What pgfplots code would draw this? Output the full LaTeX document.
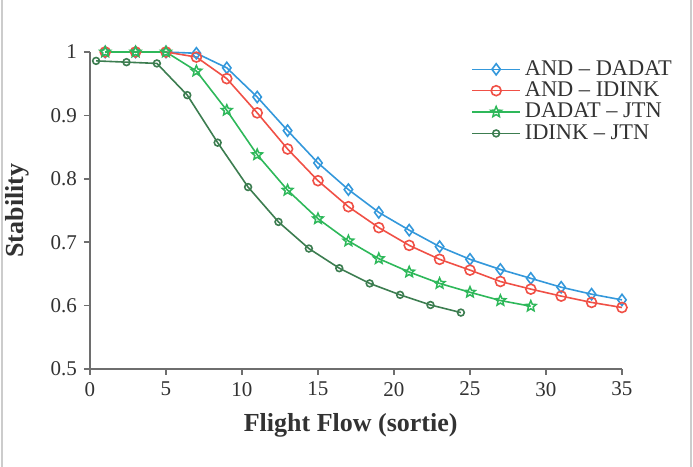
\documentclass[border=0pt]{standalone}
\usepackage{pgfplots}
\pgfplotsset{compat=1.18}
\usepackage{fontspec}
\setmainfont{Liberation Serif}
\definecolor{cblue}{RGB}{52,152,219}
\definecolor{cred}{RGB}{240,80,70}
\definecolor{cgreen}{RGB}{46,184,90}
\definecolor{cdark}{RGB}{60,125,80}
\definecolor{axgray}{RGB}{110,110,110}
\definecolor{txt}{RGB}{50,50,50}
\pgfdeclareplotmark{ostar}{%
  \pgfpathmoveto{\pgfpointpolar{90}{\pgfplotmarksize}}%
  \pgfpathlineto{\pgfpointpolar{126}{0.45\pgfplotmarksize}}%
  \pgfpathlineto{\pgfpointpolar{162}{\pgfplotmarksize}}%
  \pgfpathlineto{\pgfpointpolar{198}{0.45\pgfplotmarksize}}%
  \pgfpathlineto{\pgfpointpolar{234}{\pgfplotmarksize}}%
  \pgfpathlineto{\pgfpointpolar{270}{0.45\pgfplotmarksize}}%
  \pgfpathlineto{\pgfpointpolar{306}{\pgfplotmarksize}}%
  \pgfpathlineto{\pgfpointpolar{342}{0.45\pgfplotmarksize}}%
  \pgfpathlineto{\pgfpointpolar{18}{\pgfplotmarksize}}%
  \pgfpathlineto{\pgfpointpolar{54}{0.45\pgfplotmarksize}}%
  \pgfpathclose
  \pgfusepathqstroke
}
\begin{document}
\begin{tikzpicture}
\path[use as bounding box] (0,0) rectangle (346.5pt,233.5pt);
\draw[gray!40, line width=1pt] (1pt,0pt) -- (1pt,233.5pt);
\draw[gray!40, line width=1pt] (345.5pt,0pt) -- (345.5pt,233.5pt);
\begin{axis}[
  at={(45pt,49pt)}, anchor=south west,
  scale only axis, width=266pt, height=158.5pt,
  xmin=0, xmax=35, ymin=0.5, ymax=1,
  xtick={0,5,...,35}, ytick={0.5,0.6,0.7,0.8,0.9,1},
  axis x line*=bottom, axis y line*=left,
  axis line style={axgray, line width=0.8pt, -},
  tick align=outside, tick pos=left,
  major tick length=3pt,
  tick style={axgray, line width=0.8pt},
  /pgf/number format/assume math mode=true,
  yticklabel style={/pgf/number format/fixed, /pgf/number format/precision=1},
  ticklabel style={font=\fontsize{10.5}{12}\selectfont, text=txt},
  xlabel={Flight Flow (sortie)}, ylabel={Stability},
  label style={font=\fontsize{13}{15}\selectfont\bfseries, text=txt},
  xlabel style={at={(axis description cs:0.49,-0.177)}, anchor=center},
  ylabel style={at={(axis description cs:-0.137,0.5)}, anchor=center},
  clip=false,
  legend style={at={(0.705,1.0)}, anchor=north west, draw=none, fill=none,
    font=\fontsize{11.2}{12}\selectfont, text=txt, row sep=-2.2pt},
  legend cell align=left,
  legend image code/.code={\draw[mark repeat=2,mark phase=2] plot coordinates {(0cm,0cm)(0.42cm,0cm)(0.84cm,0cm)};},
  every axis plot/.append style={line width=0.8pt},
]
\addplot[cblue, mark=diamond, mark size=2.8pt, mark options={solid, fill=white}] coordinates {
(1,1)(3,1)(5,1)(7,0.998)(9,0.975)(11,0.929)(13,0.876)(15,0.825)(17,0.783)(19,0.747)(21,0.719)(23,0.693)(25,0.673)(27,0.657)(29,0.643)(31,0.629)(33,0.618)(35,0.609)};
\addlegendentry{AND – DADAT}
\addplot[cred, mark=o, mark size=2.5pt] coordinates {
(1,1)(3,1)(5,1)(7,0.992)(9,0.958)(11,0.904)(13,0.847)(15,0.797)(17,0.756)(19,0.723)(21,0.695)(23,0.673)(25,0.656)(27,0.638)(29,0.626)(31,0.615)(33,0.605)(35,0.597)};
\addlegendentry{AND – IDINK}
\addplot[cgreen, mark=ostar, mark size=2.8pt, mark options={line width=0.75pt, fill=white}] coordinates {
(1,1)(3,1)(5,1)(7,0.970)(9,0.908)(11,0.838)(13,0.782)(15,0.737)(17,0.702)(19,0.674)(21,0.653)(23,0.635)(25,0.621)(27,0.608)(29,0.599)};
\addlegendentry{DADAT – JTN}
\addplot[cdark, mark=o, mark size=1.7pt] coordinates {
(0.4,0.986)(2.4,0.984)(4.4,0.982)(6.4,0.932)(8.4,0.857)(10.4,0.787)(12.4,0.732)(14.4,0.690)(16.4,0.659)(18.4,0.635)(20.4,0.617)(22.4,0.601)(24.4,0.589)};
\addlegendentry{IDINK – JTN}
\end{axis}
\end{tikzpicture}
\end{document}
